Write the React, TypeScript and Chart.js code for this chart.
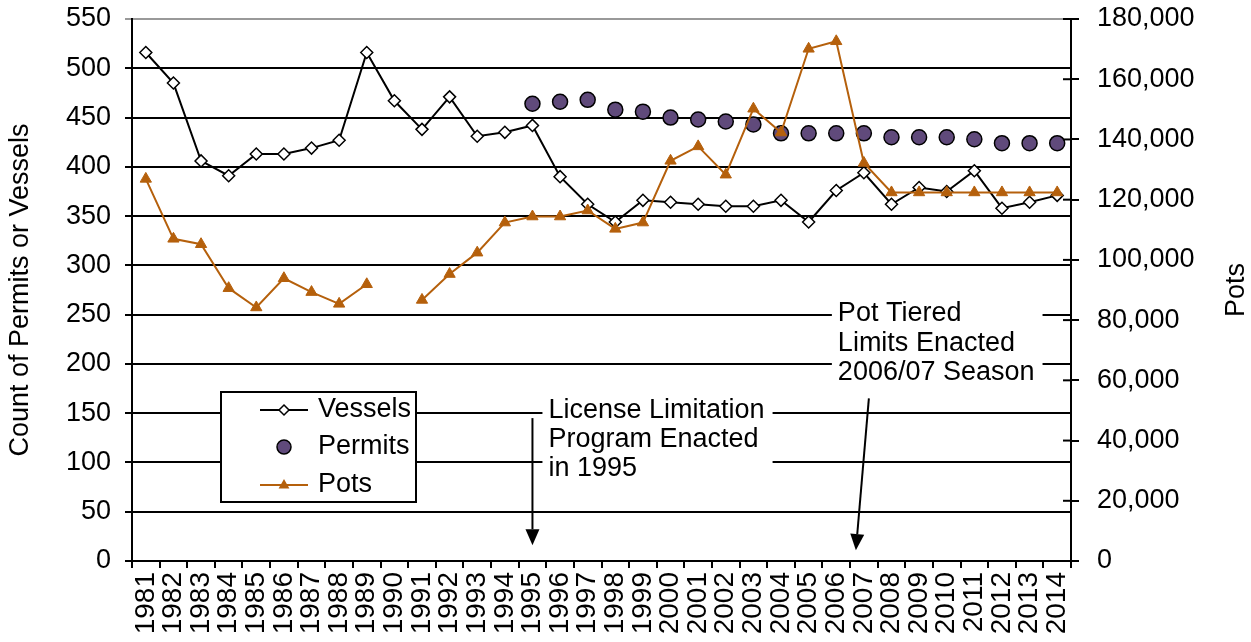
import React, { useEffect, useRef } from 'react';
import { Chart, registerables } from 'chart.js';

Chart.register(...registerables);

const years = [
  '1981', '1982', '1983', '1984', '1985', '1986', '1987', '1988', '1989', '1990',
  '1991', '1992', '1993', '1994', '1995', '1996', '1997', '1998', '1999', '2000',
  '2001', '2002', '2003', '2004', '2005', '2006', '2007', '2008', '2009', '2010',
  '2011', '2012', '2013', '2014',
];

const vessels = [
  516, 485, 406, 391, 413, 413, 419, 427, 516, 467,
  438, 471, 431, 435, 442, 390, 362, 344, 366, 364,
  362, 360, 360, 366, 344, 376, 394, 362, 379, 375,
  396, 358, 364, 371,
];

const permits = [
  null, null, null, null, null, null, null, null, null, null,
  null, null, null, null, 464, 466, 468, 458, 456, 450,
  448, 446, 443, 434, 434, 434, 434, 430, 430, 430,
  428, 424, 424, 424,
];

const pots = [
  126900, 107000, 105200, 90600, 84200, 93900, 89300, 85400, 91900, null,
  86700, 95300, 102400, 112400, 114400, 114400, 116400, 110300, 112400, 132900,
  137700, 128300, 150200, 142300, 170100, 172600, 132200, 122400, 122400, 122400,
  122400, 122400, 122400, 122400,
];

const leftMax = 550;
const leftStep = 50;
const rightMax = 180000;
const rightStep = 20000;

const FONT = '"Liberation Sans", Arial, sans-serif';
const FS = 27;
const POT_COLOR = '#B5600C';
const PERMIT_COLOR = '#604A7B';

function drawDiamond(ctx: CanvasRenderingContext2D, x: number, y: number, r: number) {
  ctx.beginPath();
  ctx.moveTo(x, y - r);
  ctx.lineTo(x + r, y);
  ctx.lineTo(x, y + r);
  ctx.lineTo(x - r, y);
  ctx.closePath();
  ctx.fillStyle = '#fff';
  ctx.fill();
  ctx.strokeStyle = '#000';
  ctx.lineWidth = 1.5;
  ctx.stroke();
}

function drawTriangle(ctx: CanvasRenderingContext2D, x: number, y: number, r: number) {
  ctx.beginPath();
  ctx.moveTo(x, y - r);
  ctx.lineTo(x + r * 0.9, y + r * 0.6);
  ctx.lineTo(x - r * 0.9, y + r * 0.6);
  ctx.closePath();
  ctx.fillStyle = POT_COLOR;
  ctx.fill();
}

function arrow(ctx: CanvasRenderingContext2D, x0: number, y0: number, x1: number, y1: number) {
  const ang = Math.atan2(y1 - y0, x1 - x0);
  const hl = 16;
  const hw = 7;
  ctx.strokeStyle = '#000';
  ctx.lineWidth = 2;
  ctx.beginPath();
  ctx.moveTo(x0, y0);
  ctx.lineTo(x1 - Math.cos(ang) * hl, y1 - Math.sin(ang) * hl);
  ctx.stroke();
  ctx.beginPath();
  ctx.moveTo(x1, y1);
  ctx.lineTo(x1 - Math.cos(ang) * hl - Math.sin(ang) * hw, y1 - Math.sin(ang) * hl + Math.cos(ang) * hw);
  ctx.lineTo(x1 - Math.cos(ang) * hl + Math.sin(ang) * hw, y1 - Math.sin(ang) * hl - Math.cos(ang) * hw);
  ctx.closePath();
  ctx.fillStyle = '#000';
  ctx.fill();
}

function textBlock(ctx: CanvasRenderingContext2D, lines: string[], x: number, ys: number[]) {
  const w = Math.max(...lines.map((s) => ctx.measureText(s).width));
  ctx.fillStyle = '#fff';
  ctx.fillRect(x - 6, ys[0] - 16, w + 14, ys[ys.length - 1] - ys[0] + 32);
  ctx.fillStyle = '#000';
  lines.forEach((s, i) => ctx.fillText(s, x, ys[i]));
}

const overlay = {
  id: 'overlay',
  afterDraw(chart: any) {
    const { ctx, chartArea, scales } = chart;
    const xs = scales.x;
    const ys = scales.y;
    const y1s = scales.y1;
    ctx.save();

    // inner half of right-axis tick marks
    ctx.strokeStyle = '#000';
    ctx.lineWidth = 2;
    y1s.ticks.forEach((t: any) => {
      const py = y1s.getPixelForValue(t.value);
      ctx.beginPath();
      ctx.moveTo(chartArea.right - 8, py);
      ctx.lineTo(chartArea.right, py);
      ctx.stroke();
    });

    ctx.font = `${FS}px ${FONT}`;
    ctx.textBaseline = 'middle';
    ctx.textAlign = 'left';

    // Right axis title (reads bottom to top)
    ctx.save();
    ctx.translate(1237, (chartArea.top + chartArea.bottom) / 2);
    ctx.rotate(-Math.PI / 2);
    ctx.textAlign = 'center';
    ctx.fillStyle = '#000';
    ctx.fillText('Pots', 0, 0);
    ctx.restore();

    // Annotation 1
    const xa = xs.getPixelForValue(14);
    textBlock(
      ctx,
      ['License Limitation', 'Program Enacted', 'in 1995'],
      xa + 16,
      [ys.getPixelForValue(153), ys.getPixelForValue(123), ys.getPixelForValue(93.5)],
    );
    arrow(ctx, xa, ys.getPixelForValue(145), xa, ys.getPixelForValue(16));

    // Annotation 2
    const xb = xs.getPixelForValue(26);
    textBlock(
      ctx,
      ['Pot Tiered', 'Limits Enacted', '2006/07 Season'],
      xb - 26,
      [ys.getPixelForValue(251), ys.getPixelForValue(221), ys.getPixelForValue(191)],
    );
    arrow(ctx, xb + 5, ys.getPixelForValue(165), xb - 8, ys.getPixelForValue(11));

    // Legend
    const lx = 221, ly = 392, lw = 195, lh = 110;
    ctx.fillStyle = '#fff';
    ctx.fillRect(lx, ly, lw, lh);
    ctx.strokeStyle = '#000';
    ctx.lineWidth = 2;
    ctx.strokeRect(lx, ly, lw, lh);
    const sx = 284;
    const rows = [410, 447, 485];
    ctx.strokeStyle = '#000';
    ctx.lineWidth = 2;
    ctx.beginPath();
    ctx.moveTo(sx - 24, rows[0]);
    ctx.lineTo(sx + 24, rows[0]);
    ctx.stroke();
    drawDiamond(ctx, sx, rows[0], 5);
    ctx.beginPath();
    ctx.arc(sx, rows[1], 7, 0, Math.PI * 2);
    ctx.fillStyle = PERMIT_COLOR;
    ctx.fill();
    ctx.strokeStyle = '#000';
    ctx.lineWidth = 1.5;
    ctx.stroke();
    ctx.strokeStyle = POT_COLOR;
    ctx.lineWidth = 2;
    ctx.beginPath();
    ctx.moveTo(sx - 24, rows[2]);
    ctx.lineTo(sx + 24, rows[2]);
    ctx.stroke();
    drawTriangle(ctx, sx, rows[2], 6);

    ctx.fillStyle = '#000';
    ctx.font = `${FS}px ${FONT}`;
    ctx.fillText('Vessels', 318, rows[0]);
    ctx.fillText('Permits', 318, rows[1]);
    ctx.fillText('Pots', 318, rows[2]);

    ctx.restore();
  },
};

const noVPad = (s: any, w: number) => {
  s.width = w;
  s.paddingTop = 0;
  s.paddingBottom = 0;
};

export default function App() {
  const ref = useRef<HTMLCanvasElement | null>(null);

  useEffect(() => {
    document.body.style.margin = '0';
    document.body.style.overflow = 'hidden';
    const canvas = ref.current;
    if (!canvas) return;
    const chart = new Chart(canvas, {
      type: 'line',
      data: {
        labels: years,
        datasets: [
          {
            label: 'Vessels',
            data: vessels,
            yAxisID: 'y',
            borderColor: '#000',
            borderWidth: 2,
            pointStyle: 'rectRot',
            pointRadius: 6,
            pointBackgroundColor: '#fff',
            pointBorderColor: '#000',
            pointBorderWidth: 1.5,
            tension: 0,
            order: 2,
          },
          {
            label: 'Permits',
            data: permits,
            yAxisID: 'y',
            showLine: false,
            pointStyle: 'circle',
            pointRadius: 7.5,
            pointBackgroundColor: PERMIT_COLOR,
            pointBorderColor: '#000',
            pointBorderWidth: 1.5,
            order: 3,
          },
          {
            label: 'Pots',
            data: pots,
            yAxisID: 'y1',
            borderColor: POT_COLOR,
            borderWidth: 2,
            pointStyle: 'triangle',
            pointRadius: 6.5,
            pointBackgroundColor: POT_COLOR,
            pointBorderColor: POT_COLOR,
            pointBorderWidth: 1,
            spanGaps: false,
            tension: 0,
            order: 1,
          },
        ],
      },
      options: {
        responsive: false,
        animation: false,
        layout: { padding: { top: 19, left: 0, right: 0, bottom: 0 } },
        plugins: {
          legend: { display: false },
          tooltip: { enabled: false },
        },
        scales: {
          x: {
            type: 'category',
            offset: true,
            grid: {
              display: true,
              offset: true,
              drawOnChartArea: false,
              drawTicks: true,
              tickLength: 7,
              color: '#000',
              lineWidth: 2,
            },
            border: { display: true, color: '#000', width: 2 },
            ticks: {
              autoSkip: false,
              maxRotation: 90,
              minRotation: 90,
              color: '#000',
              padding: 4,
              font: { family: FONT, size: 28 },
            },
            afterFit: (s: any) => { s.height = 81; },
          },
          y: {
            position: 'left',
            min: 0,
            max: leftMax,
            ticks: {
              stepSize: leftStep,
              color: '#000',
              padding: 14,
              font: { family: FONT, size: FS },
            },
            grid: {
              color: (c: any) => (c.tick && c.tick.value === leftMax ? '#999' : '#000'),
              lineWidth: 2,
              tickLength: 7,
            },
            border: { display: true, color: '#000', width: 2 },
            title: {
              display: true,
              text: 'Count of Permits or Vessels',
              color: '#000',
              font: { family: FONT, size: FS },
              padding: { top: 4, bottom: 0 },
            },
            afterFit: (s: any) => noVPad(s, 132),
          },
          y1: {
            position: 'right',
            min: 0,
            max: rightMax,
            ticks: {
              stepSize: rightStep,
              color: '#000',
              padding: 18,
              font: { family: FONT, size: FS },
              callback: (v: any) => Number(v).toLocaleString('en-US'),
            },
            grid: {
              drawOnChartArea: false,
              color: '#000',
              lineWidth: 2,
              tickLength: 8,
            },
            border: { display: true, color: '#000', width: 2 },
            afterFit: (s: any) => noVPad(s, 180),
          },
        },
      },
      plugins: [overlay],
    });
    return () => chart.destroy();
  }, []);

  return (
    <div style={{ width: 1251, height: 642, background: '#fff' }}>
      <canvas ref={ref} width={1251} height={642} style={{ display: 'block' }} />
    </div>
  );
}
